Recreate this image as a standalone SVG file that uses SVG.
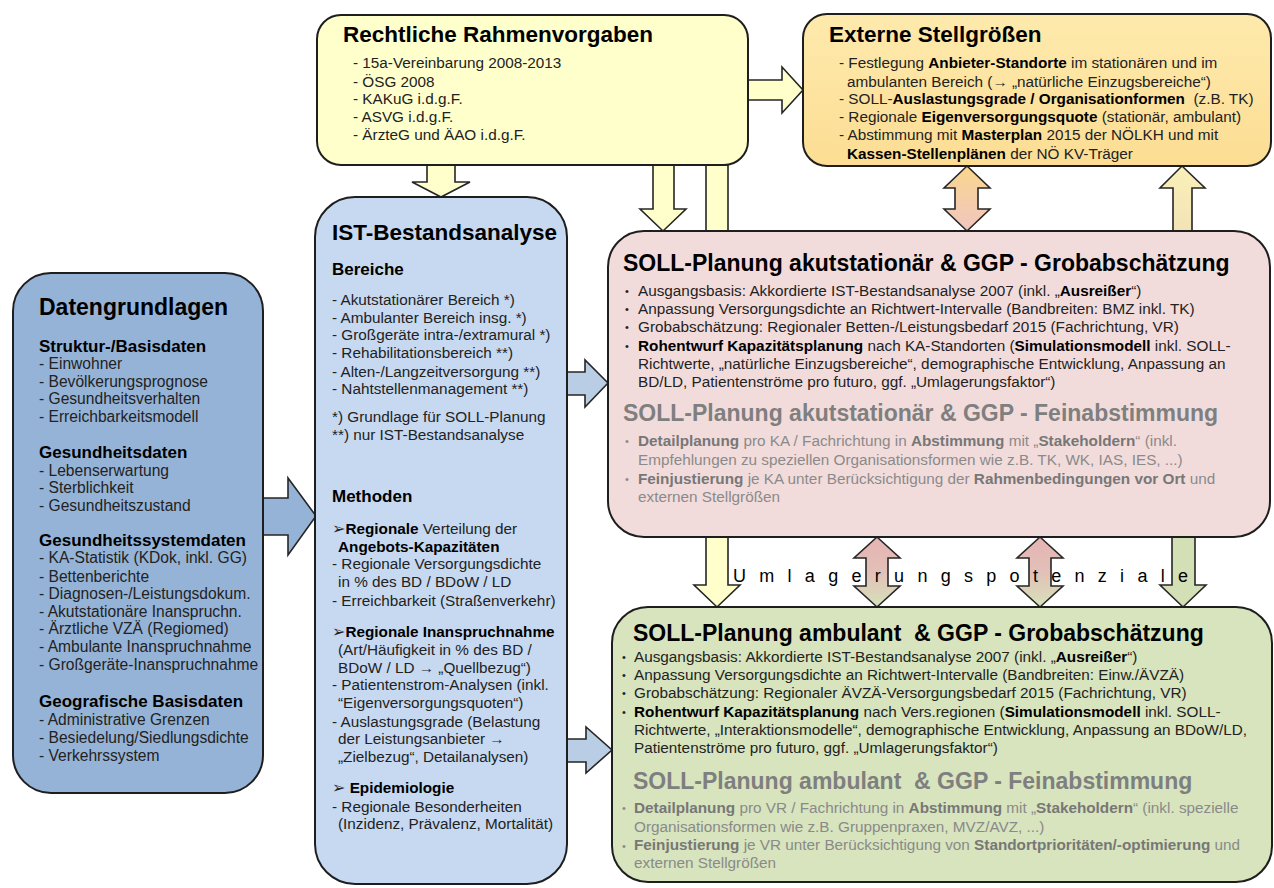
<svg xmlns="http://www.w3.org/2000/svg" width="1274" height="888" viewBox="0 0 1274 888">
<defs>
<style>
text{font-family:"Liberation Sans",Arial,"DejaVu Sans",sans-serif;fill:#222;}
.title{font-size:22.5px;font-weight:bold;fill:#000;}
.sub{font-size:17px;font-weight:bold;fill:#000;}
.it{font-size:15.3px;}
.dl{font-size:15.6px;}
.b{font-weight:bold;fill:#000;}
.g{fill:#8a8a8a;}
.gt{font-size:22.5px;font-weight:bold;fill:#7f7f7f;}
.gb{font-weight:bold;fill:#777;}
.bul{font-size:11px;}
.mk{font-size:16px;font-family:"DejaVu Sans",sans-serif;}
.box{stroke:#1e1e1e;stroke-width:2;}
.arr{stroke:#262626;stroke-width:1.6;stroke-linejoin:miter;}
.pre{white-space:pre;}
</style>
<linearGradient id="gExt" x1="0" y1="0" x2="0" y2="1"><stop offset="0" stop-color="#FEEAAD"/><stop offset="1" stop-color="#FCDD93"/></linearGradient>
<linearGradient id="gTop" x1="0" y1="0" x2="0" y2="1"><stop offset="0" stop-color="#FAD68E"/><stop offset="1" stop-color="#F0C6C0"/></linearGradient>
<linearGradient id="gMid" x1="0" y1="0" x2="0" y2="1"><stop offset="0" stop-color="#E6B4B3"/><stop offset="0.5" stop-color="#E2C0B8"/><stop offset="1" stop-color="#D6E2BA"/></linearGradient>
<linearGradient id="gUp" x1="0" y1="0" x2="0" y2="1"><stop offset="0" stop-color="#FAF0B8"/><stop offset="1" stop-color="#F3E3B6"/></linearGradient>
</defs>
<rect width="1274" height="888" fill="#fff"/>
<g id="connectors">
<polygon class="arr" fill="#FFFFCC" points="706,165 728,165 728,585 740,585 717,607 694,585 706,585"/>
<polygon class="arr" fill="#FFFFCC" points="748,80 782,80 782,67 803,90 782,113 782,100 748,100"/>
<polygon class="arr" fill="#95B3D7" points="262,498 288,498 288,478 316,516 288,555 288,535 262,535"/>
<polygon class="arr" fill="#B9CDE5" points="566,372 585,372 585,360 608,383 585,407 585,395 566,395"/>
<polygon class="arr" fill="#B9CDE5" points="566,739 586,739 586,727 612,750 586,773 586,762 566,762"/>
<polygon class="arr" fill="#FFFFCC" points="427,165 455,165 455,182 470,182 441,197 412,182 427,182"/>
<polygon class="arr" fill="#FFFFCC" points="653,165 674,165 674,209 686,209 663,231 640,209 653,209"/>
<polygon class="arr" fill="url(#gTop)" points="967,166 990,188 978,188 978,209 990,209 967,231 944,209 955,209 955,188 944,188"/>
<polygon class="arr" fill="url(#gUp)" points="1182,166 1205,188 1192,188 1192,231 1173,231 1173,188 1160,188"/>
<polygon class="arr" fill="url(#gMid)" points="877,537 900,558 888,558 888,586 900,586 877,607 854,586 866,586 866,558 854,558"/>
<polygon class="arr" fill="url(#gMid)" points="1040,537 1063,558 1051,558 1051,586 1063,586 1040,607 1017,586 1029,586 1029,558 1017,558"/>
<polygon class="arr" fill="#D3E0B5" points="1172,537 1195,537 1195,585 1206,585 1183,607 1160,585 1172,585"/>
<text x="733" y="582" font-size="18" style="fill:#000" textLength="455" lengthAdjust="spacing">Umlagerungspotenziale</text>
</g>
<g id="rechtliche">
<rect class="box" x="317" y="15" width="431" height="150" rx="24" fill="#FFFFCC"/>
<text class="title" x="343" y="42">Rechtliche Rahmenvorgaben</text>
<text class="it" x="353" y="68">- 15a-Vereinbarung 2008-2013</text>
<text class="it" x="353" y="87">- ÖSG 2008</text>
<text class="it" x="353" y="104">- KAKuG i.d.g.F.</text>
<text class="it" x="353" y="122">- ASVG i.d.g.F.</text>
<text class="it" x="353" y="140">- ÄrzteG und ÄAO i.d.g.F.</text>
</g>
<g id="externe">
<rect class="box" x="803" y="14" width="468" height="152" rx="24" fill="url(#gExt)"/>
<text class="title" x="829" y="42">Externe Stellgrößen</text>
<text class="it" x="839" y="68">- Festlegung <tspan class="b">Anbieter-Standorte</tspan> im stationären und im</text>
<text class="it" x="847" y="87">ambulanten Bereich (→ „natürliche Einzugsbereiche“)</text>
<text class="it pre" x="839" y="104">- SOLL-<tspan class="b">Auslastungsgrade / Organisationformen</tspan>  (z.B. TK)</text>
<text class="it" x="839" y="122">- Regionale <tspan class="b">Eigenversorgungsquote</tspan> (stationär, ambulant)</text>
<text class="it" x="839" y="140">- Abstimmung mit <tspan class="b">Masterplan</tspan> 2015 der NÖLKH und mit</text>
<text class="it" x="847" y="159"><tspan class="b">Kassen-Stellenplänen</tspan> der NÖ KV-Träger</text>
</g>
<g id="datengrundlagen">
<rect class="box" x="13" y="273" width="250" height="520" rx="38" fill="#95B3D7"/>
<text class="title" x="39" y="315" style="font-size:23px">Datengrundlagen</text>
<text class="sub" x="39" y="352">Struktur-/Basisdaten</text>
<text class="dl" x="39" y="369">- Einwohner</text>
<text class="dl" x="39" y="387">- Bevölkerungsprognose</text>
<text class="dl" x="39" y="404">- Gesundheitsverhalten</text>
<text class="dl" x="39" y="422">- Erreichbarkeitsmodell</text>
<text class="sub" x="39" y="458">Gesundheitsdaten</text>
<text class="dl" x="39" y="476">- Lebenserwartung</text>
<text class="dl" x="39" y="493">- Sterblichkeit</text>
<text class="dl" x="39" y="511">- Gesundheitszustand</text>
<text class="sub" x="39" y="546">Gesundheitssystemdaten</text>
<text class="dl" x="39" y="563">- KA-Statistik (KDok, inkl. GG)</text>
<text class="dl" x="39" y="582">- Bettenberichte</text>
<text class="dl" x="39" y="599">- Diagnosen-/Leistungsdokum.</text>
<text class="dl" x="39" y="617">- Akutstationäre Inanspruchn.</text>
<text class="dl" x="39" y="634">- Ärztliche VZÄ (Regiomed)</text>
<text class="dl" x="39" y="652">- Ambulante Inanspruchnahme</text>
<text class="dl" x="39" y="670">- Großgeräte-Inanspruchnahme</text>
<text class="sub" x="39" y="707">Geografische Basisdaten</text>
<text class="dl" x="39" y="725">- Administrative Grenzen</text>
<text class="dl" x="39" y="743">- Besiedelung/Siedlungsdichte</text>
<text class="dl" x="39" y="761">- Verkehrssystem</text>
</g>
<g id="ist-bestandsanalyse">
<rect class="box" x="315" y="197" width="252" height="687" rx="40" fill="#C6D9F1"/>
<text class="title" x="332" y="240">IST-Bestandsanalyse</text>
<text class="sub" x="332" y="275">Bereiche</text>
<text class="it" x="332" y="305">- Akutstationärer Bereich *)</text>
<text class="it" x="332" y="323">- Ambulanter Bereich insg. *)</text>
<text class="it" x="332" y="340">- Großgeräte intra-/extramural *)</text>
<text class="it" x="332" y="358">- Rehabilitationsbereich **)</text>
<text class="it" x="332" y="377">- Alten-/Langzeitversorgung **)</text>
<text class="it" x="332" y="394">- Nahtstellenmanagement **)</text>
<text class="it" x="332" y="422">*) Grundlage für SOLL-Planung</text>
<text class="it" x="332" y="440">**) nur IST-Bestandsanalyse</text>
<text class="sub" x="332" y="502">Methoden</text>
<text class="it" x="332" y="534"><tspan class="mk">➢</tspan><tspan class="b">Regionale</tspan> Verteilung der</text>
<text class="it" x="338" y="552"><tspan class="b">Angebots-Kapazitäten</tspan></text>
<text class="it" x="332" y="569">- Regionale Versorgungsdichte</text>
<text class="it" x="338" y="587">in % des BD / BDoW / LD</text>
<text class="it" x="332" y="606">- Erreichbarkeit (Straßenverkehr)</text>
<text class="it" x="332" y="637"><tspan class="mk">➢</tspan><tspan class="b">Regionale Inanspruchnahme</tspan></text>
<text class="it" x="338" y="655">(Art/Häufigkeit in % des BD /</text>
<text class="it" x="338" y="673">BDoW / LD → „Quellbezug“)</text>
<text class="it" x="332" y="690">- Patientenstrom-Analysen (inkl.</text>
<text class="it" x="338" y="708">“Eigenversorgungsquoten“)</text>
<text class="it" x="332" y="727">- Auslastungsgrade (Belastung</text>
<text class="it" x="338" y="744">der Leistungsanbieter →</text>
<text class="it" x="338" y="762">„Zielbezug“, Detailanalysen)</text>
<text class="it" x="332" y="793"><tspan class="mk">➢</tspan><tspan class="b"> Epidemiologie</tspan></text>
<text class="it" x="332" y="812">- Regionale Besonderheiten</text>
<text class="it" x="338" y="829">(Inzidenz, Prävalenz, Mortalität)</text>
</g>
<g id="soll-akutstationaer">
<rect class="box" x="608" y="231" width="662" height="306" rx="36" fill="#F2DCDB"/>
<text class="title" x="623" y="271" style="font-size:23px">SOLL-Planung akutstationär &amp; GGP - Grobabschätzung</text>
<text class="bul" x="625" y="295">•</text>
<text class="it" x="638" y="296">Ausgangsbasis: Akkordierte IST-Bestandsanalyse 2007 (inkl. „<tspan class="b">Ausreißer</tspan>“)</text>
<text class="bul" x="625" y="313">•</text>
<text class="it" x="638" y="314">Anpassung Versorgungsdichte an Richtwert-Intervalle (Bandbreiten: BMZ inkl. TK)</text>
<text class="bul" x="625" y="331">•</text>
<text class="it" x="638" y="332">Grobabschätzung: Regionaler Betten-/Leistungsbedarf 2015 (Fachrichtung, VR)</text>
<text class="bul" x="625" y="350">•</text>
<text class="it" x="638" y="351"><tspan class="b">Rohentwurf Kapazitätsplanung</tspan> nach KA-Standorten (<tspan class="b">Simulationsmodell</tspan> inkl. SOLL-</text>
<text class="it" x="638" y="369">Richtwerte, „natürliche Einzugsbereiche“, demographische Entwicklung, Anpassung an</text>
<text class="it" x="638" y="387">BD/LD, Patientenströme pro futuro, ggf. „Umlagerungsfaktor“)</text>
<text class="gt" x="623" y="421" style="font-size:23px">SOLL-Planung akutstationär &amp; GGP - Feinabstimmung</text>
<text class="bul g" x="625" y="445">•</text>
<text class="it g" x="638" y="446"><tspan class="gb">Detailplanung</tspan> pro KA / Fachrichtung in <tspan class="gb">Abstimmung</tspan> mit „<tspan class="gb">Stakeholdern</tspan>“ (inkl.</text>
<text class="it g" x="638" y="465">Empfehlungen zu speziellen Organisationsformen wie z.B. TK, WK, IAS, IES, ...)</text>
<text class="bul g" x="625" y="483">•</text>
<text class="it g" x="638" y="484"><tspan class="gb">Feinjustierung</tspan> je KA unter Berücksichtigung der <tspan class="gb">Rahmenbedingungen vor Ort</tspan> und</text>
<text class="it g" x="638" y="502">externen Stellgrößen</text>
</g>
<g id="soll-ambulant">
<rect class="box" x="612" y="607" width="660" height="275" rx="36" fill="#D7E4BD"/>
<text class="title pre" x="633" y="641" style="font-size:23px">SOLL-Planung ambulant  &amp; GGP - Grobabschätzung</text>
<text class="bul" x="622" y="661">•</text>
<text class="it" x="634" y="662">Ausgangsbasis: Akkordierte IST-Bestandsanalyse 2007 (inkl. „<tspan class="b">Ausreißer</tspan>“)</text>
<text class="bul" x="622" y="679">•</text>
<text class="it" x="634" y="680">Anpassung Versorgungsdichte an Richtwert-Intervalle (Bandbreiten: Einw./ÄVZÄ)</text>
<text class="bul" x="622" y="697">•</text>
<text class="it" x="634" y="698">Grobabschätzung: Regionaler ÄVZÄ-Versorgungsbedarf 2015 (Fachrichtung, VR)</text>
<text class="bul" x="622" y="716">•</text>
<text class="it" x="634" y="717"><tspan class="b">Rohentwurf Kapazitätsplanung</tspan> nach Vers.regionen (<tspan class="b">Simulationsmodell</tspan> inkl. SOLL-</text>
<text class="it" x="634" y="735">Richtwerte, „Interaktionsmodelle“, demographische Entwicklung, Anpassung an BDoW/LD,</text>
<text class="it" x="634" y="753">Patientenströme pro futuro, ggf. „Umlagerungsfaktor“)</text>
<text class="gt pre" x="633" y="789" style="font-size:23px">SOLL-Planung ambulant  &amp; GGP - Feinabstimmung</text>
<text class="bul g" x="622" y="812">•</text>
<text class="it g" x="634" y="813"><tspan class="gb">Detailplanung</tspan> pro VR / Fachrichtung in <tspan class="gb">Abstimmung</tspan> mit „<tspan class="gb">Stakeholdern</tspan>“ (inkl. spezielle</text>
<text class="it g" x="634" y="832">Organisationsformen wie z.B. Gruppenpraxen, MVZ/AVZ, ...)</text>
<text class="bul g" x="622" y="850">•</text>
<text class="it g" x="634" y="850"><tspan class="gb">Feinjustierung</tspan> je VR  unter Berücksichtigung von <tspan class="gb">Standortprioritäten/-optimierung</tspan> und</text>
<text class="it g" x="634" y="868">externen Stellgrößen</text>
</g>
</svg>
